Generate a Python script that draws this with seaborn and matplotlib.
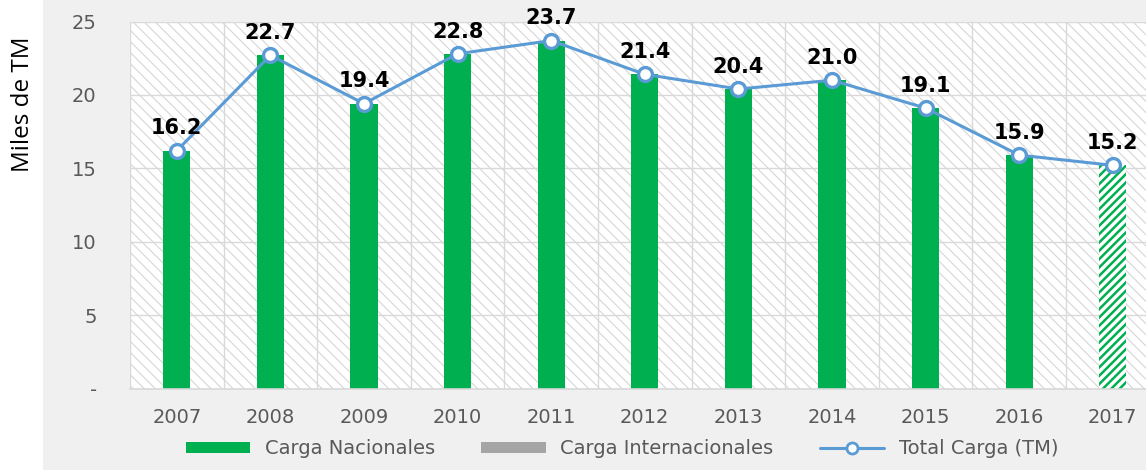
import numpy as np
import matplotlib
matplotlib.use("Agg")
from matplotlib import pyplot as plt
from matplotlib.patches import Rectangle, Patch
from matplotlib.lines import Line2D
from matplotlib.ticker import FuncFormatter, FixedLocator
import seaborn as sns

sns.set_style("white")
plt.rcParams['font.family'] = ['DejaVu Sans']

# Data (miles de TM)
years = ['2007', '2008', '2009', '2010', '2011', '2012', '2013', '2014', '2015', '2016', '2017']
carga_nacionales = [16.2, 22.7, 19.4, 22.8, 23.7, 21.4, 20.4, 21.0, 19.1, 15.9, 15.2]
carga_internacionales = [0, 0, 0, 0, 0, 0, 0, 0, 0, 0, 0]
total_carga = [16.2, 22.7, 19.4, 22.8, 23.7, 21.4, 20.4, 21.0, 19.1, 15.9, 15.2]

green = '#00b050'
grey_bar = '#a5a5a5'
blue = '#5b9bd5'
tick_grey = '#595959'
grid_grey = '#d9d9d9'

fig = plt.figure(figsize=(11.46, 4.74), dpi=100)
fig.patch.set_facecolor('white')

# light grey panel behind the chart
fig.patches.append(Rectangle((43 / 1146, 4 / 474), 1, 1, transform=fig.transFigure,
                             facecolor='#f0f0f0', edgecolor='none', zorder=-10))

ax = fig.add_axes([130 / 1146, 1 - 388.5 / 474, 1029.6 / 1146, 367 / 474])
ax.set_facecolor('white')
ax.set_axisbelow(True)

# bars
sns.barplot(x=years, y=carga_nacionales, color=green, saturation=1, width=0.29,
            linewidth=0, errorbar=None, ax=ax)
sns.barplot(x=years, y=carga_internacionales, color=grey_bar, saturation=1, width=0.29,
            linewidth=0, errorbar=None, ax=ax)

# last year (preliminary) hatched
with plt.rc_context({'hatch.linewidth': 1.8}):
    last = ax.containers[0].patches[-1]
    last.set_facecolor('white')
    last.set_edgecolor(green)
    last.set_hatch('////')
    if hasattr(last, 'set_hatch_linewidth'):
        last.set_hatch_linewidth(1.8)

# total line
sns.pointplot(x=years, y=total_carga, color=blue, markers='o', linestyles='-',
              errorbar=None, ax=ax, markersize=10, linewidth=2.2,
              markerfacecolor='white', markeredgecolor=blue, markeredgewidth=2.4)
for ln in ax.lines:
    ln.set_markerfacecolor('white')
    ln.set_markeredgecolor(blue)
    ln.set_markeredgewidth(2.4)
    ln.set_markersize(10)
    ln.set_linewidth(2.2)
    ln.set_zorder(4)

# value labels
for i, v in enumerate(total_carga):
    ax.annotate(f'{v:.1f}', (i, v), xytext=(0, 16), textcoords='offset points',
                ha='center', va='center', fontsize=15, fontweight='bold',
                color='black', zorder=5)

# hatched plot background
with plt.rc_context({'hatch.linewidth': 0.8}):
    bg = Rectangle((0, 0), 1, 1, transform=ax.transAxes, facecolor='white',
                   edgecolor='#d6d6d6', linewidth=0, hatch='\\\\\\', zorder=0)
    if hasattr(bg, 'set_hatch_linewidth'):
        bg.set_hatch_linewidth(0.8)
    ax.add_patch(bg)

ax.set_xlim(-0.5, len(years) - 0.5)
ax.set_ylim(0, 25)
ax.set_yticks([0, 5, 10, 15, 20, 25])
ax.yaxis.set_major_formatter(FuncFormatter(lambda y, p: '-' if y == 0 else f'{y:.0f}'))
ax.xaxis.set_minor_locator(FixedLocator(np.arange(-0.5, len(years), 1)))

ax.grid(True, axis='y', which='major', color=grid_grey, linewidth=1)
ax.grid(True, axis='x', which='minor', color=grid_grey, linewidth=1)
ax.tick_params(axis='y', length=0, pad=24, labelsize=14, labelcolor=tick_grey)
ax.tick_params(axis='x', which='major', length=0, pad=14, labelsize=14, labelcolor=tick_grey)
ax.tick_params(axis='x', which='minor', length=5, width=1, color=grid_grey, direction='out')

for s in ['top', 'right', 'left']:
    ax.spines[s].set_visible(False)
ax.spines['bottom'].set_color(grid_grey)
ax.spines['bottom'].set_linewidth(1.2)
ax.set_xlabel('')
ax.set_ylabel('')

fig.text(23 / 1146, 1 - 104 / 474, 'Miles de TM', rotation=90, ha='center', va='center',
         fontsize=17.5, color='black', family=['Open Sans', 'DejaVu Sans'])

handles = [
    Patch(facecolor=green, edgecolor='none', label='Carga Nacionales'),
    Patch(facecolor=grey_bar, edgecolor='none', label='Carga Internacionales'),
    Line2D([0], [0], color=blue, linewidth=2.2, marker='o', markersize=8,
           markerfacecolor='white', markeredgecolor=blue, markeredgewidth=2,
           label='Total Carga (TM)'),
]
leg = fig.legend(handles=handles, loc='center', bbox_to_anchor=(622 / 1146, 1 - 449 / 474),
                 ncol=3, frameon=False, fontsize=14, handlelength=3.3, handleheight=0.5,
                 handletextpad=0.75, columnspacing=2.4)
for t in leg.get_texts():
    t.set_color(tick_grey)

fig.savefig('out.png', dpi=100)
